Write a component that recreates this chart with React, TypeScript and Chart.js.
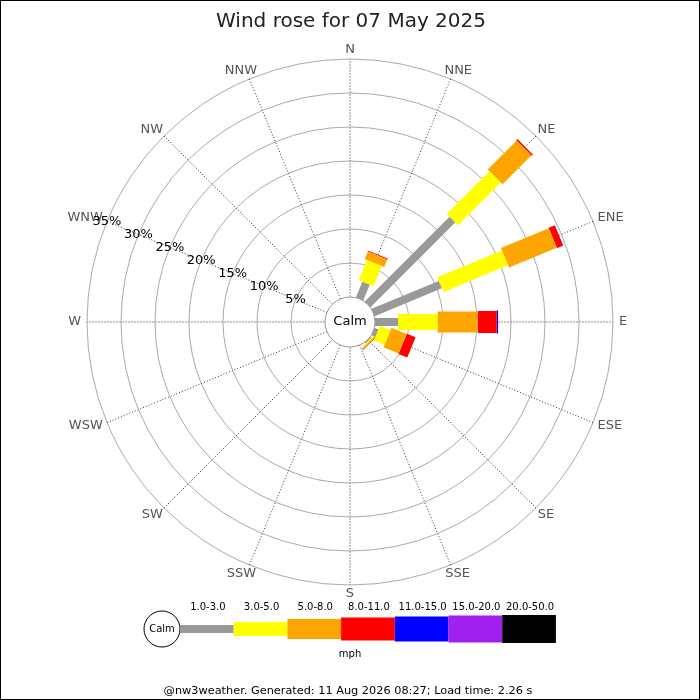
import React, { useEffect, useRef } from "react";
import { Chart, registerables } from "chart.js";

Chart.register(...registerables);

const directions = ["N", "NNE", "NE", "ENE", "E", "ESE", "SE", "SSE", "S", "SSW", "SW", "WSW", "W", "WNW", "NW", "NNW"];
const bandLabels = ["1.0-3.0", "3.0-5.0", "5.0-8.0", "8.0-11.0", "11.0-15.0", "15.0-20.0", "20.0-50.0"];
const bandColors = ["#999999", "#ffff00", "#ffa500", "#ff0000", "#0000ff", "#a020f0", "#000000"];
// percentage of time per direction for each speed band (mph)
const band1to3 = [0, 2.5, 17.6, 10.7, 3.4, 0.6, 0.15, 0, 0, 0, 0, 0, 0, 0, 0, 0];
const band3to5 = [0, 3.2, 8.9, 10.3, 5.8, 1.7, 0.2, 0, 0, 0, 0, 0, 0, 0, 0, 0];
const band5to8 = [0, 1.2, 6.0, 7.6, 5.9, 2.4, 0.15, 0, 0, 0, 0, 0, 0, 0, 0, 0];
const band8to11 = [0, 0.15, 0.25, 1.0, 2.8, 1.4, 0.1, 0, 0, 0, 0, 0, 0, 0, 0, 0];
const band11to15 = [0, 0, 0, 0, 0.2, 0, 0, 0, 0, 0, 0, 0, 0, 0, 0, 0];
const band15to20 = [0, 0, 0, 0, 0, 0, 0, 0, 0, 0, 0, 0, 0, 0, 0, 0];
const band20to50 = [0, 0, 0, 0, 0, 0, 0, 0, 0, 0, 0, 0, 0, 0, 0, 0];
const ringTicks = [5, 10, 15, 20, 25, 30, 35];
const titleText = "Wind rose for 07 May 2025";
const footerText = "@nw3weather. Generated: 11 Aug 2026 08:27; Load time: 2.26 s";

const bands = [band1to3, band3to5, band5to8, band8to11, band11to15, band15to20, band20to50];
const bandWidths = [8, 16, 21, 22, 23, 24, 25];
const PX = 6.8; // pixels per percent
const CALM = 25 / PX; // calm circle radius in percent units
const FONT = "'DejaVu Sans', sans-serif";

function angleOf(i: number) {
  return (i * 22.5 * Math.PI) / 180;
}

export default function App() {
  const ref = useRef<HTMLCanvasElement | null>(null);
  useEffect(() => {
    const canvas = ref.current;
    if (!canvas) return;
    const datasets: any[] = [];
    bands.forEach((vals, b) => {
      directions.forEach((_, d) => {
        const v = vals[d];
        if (!v) return;
        let start = CALM;
        for (let k = 0; k < b; k++) start += bands[k][d];
        const end = start + v;
        const a = angleOf(d);
        datasets.push({
          label: `${directions[d]} ${bandLabels[b]}`,
          data: [
            { x: start * Math.sin(a), y: start * Math.cos(a) },
            { x: end * Math.sin(a), y: end * Math.cos(a) },
          ],
          showLine: true,
          borderColor: bandColors[b],
          backgroundColor: bandColors[b],
          borderWidth: bandWidths[b],
          borderCapStyle: "butt",
          borderDash: [5000, 0],
          pointRadius: 0,
          clip: false,
        });
      });
    });

    const bgPlugin = {
      id: "rose",
      beforeDatasetsDraw(chart: any) {
        const ctx = chart.ctx as CanvasRenderingContext2D;
        const xs = chart.scales.x;
        const ys = chart.scales.y;
        const cx = xs.getPixelForValue(0);
        const cy = ys.getPixelForValue(0);
        const k = xs.getPixelForValue(1) - cx;
        ctx.save();
        ctx.fillStyle = "#ffffff";
        ctx.fillRect(0, 0, chart.width, chart.height);
        // rings
        ctx.strokeStyle = "#aaaaaa";
        ctx.lineWidth = 1;
        ringTicks.forEach((t) => {
          ctx.beginPath();
          ctx.arc(cx, cy, (CALM + t) * k, 0, Math.PI * 2);
          ctx.stroke();
        });
        // spokes
        const rOut = (CALM + ringTicks[ringTicks.length - 1]) * k;
        directions.forEach((_, i) => {
          const a = angleOf(i);
          const main = i % 4 === 0;
          ctx.beginPath();
          ctx.setLineDash(main ? [2, 1] : [1, 2]);
          ctx.strokeStyle = main ? "#777777" : "#333333";
          ctx.lineWidth = main ? 0.8 : 1;
          ctx.moveTo(cx + CALM * k * Math.sin(a), cy - CALM * k * Math.cos(a));
          ctx.lineTo(cx + rOut * Math.sin(a), cy - rOut * Math.cos(a));
          ctx.stroke();
        });
        ctx.setLineDash([]);
        // direction labels
        ctx.fillStyle = "#555555";
        ctx.font = `13px ${FONT}`;
        ctx.textAlign = "center";
        ctx.textBaseline = "middle";
        directions.forEach((name, i) => {
          const a = angleOf(i);
          const s = Math.sin(a);
          const c = Math.cos(a);
          const w = ctx.measureText(name).width;
          const px = cx + (rOut + 4) * s + (w / 2 + 2) * s;
          const py = cy - (rOut + 4) * c - 5 * c;
          ctx.fillText(name, px, py);
        });
        // calm circle
        ctx.beginPath();
        ctx.arc(cx, cy, CALM * k, 0, Math.PI * 2);
        ctx.fillStyle = "#ffffff";
        ctx.fill();
        ctx.strokeStyle = "#999999";
        ctx.stroke();
        ctx.fillStyle = "#000000";
        ctx.font = `13px ${FONT}`;
        ctx.fillText("Calm", cx, cy);
        // percent labels along WNW
        const aL = angleOf(13);
        ctx.font = `13px ${FONT}`;
        ringTicks.forEach((t) => {
          const r = (CALM + t) * k;
          ctx.fillText(`${t}%`, cx + r * Math.sin(aL), cy - r * Math.cos(aL));
        });
        ctx.restore();
      },
      afterDraw(chart: any) {
        const ctx = chart.ctx as CanvasRenderingContext2D;
        ctx.save();
        ctx.textAlign = "center";
        // title
        ctx.fillStyle = "#222222";
        ctx.font = `20px ${FONT}`;
        ctx.textBaseline = "alphabetic";
        ctx.fillText(titleText, 351, 27);
        ctx.textBaseline = "middle";
        // legend
        const ly = 629;
        ctx.beginPath();
        ctx.arc(162, ly, 18, 0, Math.PI * 2);
        ctx.fillStyle = "#ffffff";
        ctx.fill();
        ctx.strokeStyle = "#000000";
        ctx.lineWidth = 1;
        ctx.stroke();
        ctx.fillStyle = "#000000";
        ctx.font = `10px ${FONT}`;
        ctx.fillText("Calm", 162, ly);
        const legW = [8, 14, 20, 23, 25, 27, 28];
        const x0 = 180;
        const segW = 53.7;
        bandLabels.forEach((lab, i) => {
          const xs = x0 + i * segW;
          ctx.fillStyle = bandColors[i];
          ctx.fillRect(xs, ly - legW[i] / 2, segW, legW[i]);
          ctx.fillStyle = "#000000";
          ctx.font = `10px ${FONT}`;
          ctx.fillText(lab, xs + segW / 2 + 1, 607);
        });
        ctx.fillText("mph", 350, 654);
        ctx.font = `11.3px ${FONT}`;
        ctx.fillText(footerText, 348, 691);
        // border
        ctx.strokeStyle = "#000000";
        ctx.lineWidth = 1;
        ctx.strokeRect(0.5, 0.5, chart.width - 1, chart.height - 1);
        ctx.restore();
      },
    };

    const chart = new Chart(canvas, {
      type: "scatter",
      data: { datasets },
      options: {
        animation: false,
        responsive: false,
        maintainAspectRatio: false,
        devicePixelRatio: 1,
        layout: { padding: 0 },
        scales: {
          x: { type: "linear", min: -350 / PX, max: 350 / PX, display: false },
          y: { type: "linear", min: -378 / PX, max: 322 / PX, display: false },
        },
        plugins: {
          legend: { display: false },
          tooltip: { enabled: false },
          title: { display: false },
        },
        elements: { point: { radius: 0 }, line: { tension: 0 } },
      },
      plugins: [bgPlugin],
    } as any);
    return () => chart.destroy();
  }, []);

  return (
    <div style={{ position: "absolute", left: 0, top: 0, width: 700, height: 700, background: "#fff" }}>
      <canvas ref={ref} width={700} height={700} style={{ display: "block", width: 700, height: 700 }} />
    </div>
  );
}
